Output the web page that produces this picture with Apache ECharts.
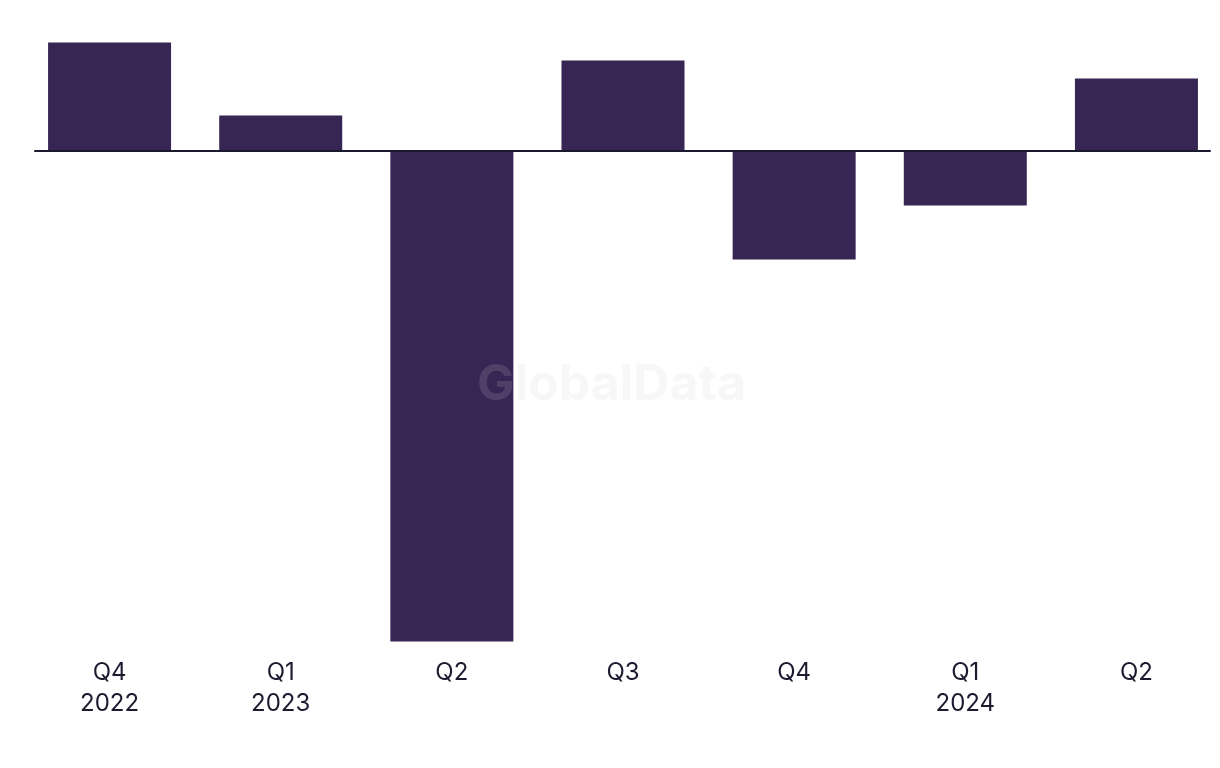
<!DOCTYPE html>
<html>
<head>
<meta charset="utf-8">
<script src="https://cdn.jsdelivr.net/npm/echarts@6/dist/echarts.min.js"></script>
<style>html,body{margin:0;padding:0;background:#fff;overflow:hidden}#c{width:1226px;height:768px}</style>
</head>
<body>
<div id="c"></div>
<script>
const categories = ['Q4\n2022', 'Q1\n2023', 'Q2', 'Q3', 'Q4', 'Q1\n2024', 'Q2'];
const values = [10.8, 3.5, -49.1, 9.0, -10.9, -5.5, 7.2];

const chart = echarts.init(document.getElementById('c'));
chart.setOption({
  animation: false,
  grid: [
    { left: 24, width: 1198, top: 30.5, height: 620 },
    { left: 35, width: 1175, top: 30.5, height: 620 }
  ],
  xAxis: [
    {
      type: 'category', data: categories, gridIndex: 0,
      axisLine: { show: false, onZero: false },
      axisTick: { show: false },
      axisLabel: { fontFamily: 'Inter', fontSize: 24, color: '#1c1a2e', lineHeight: 31, margin: 7 }
    },
    {
      type: 'value', gridIndex: 1, min: 0, max: 1,
      axisLine: { show: true, onZero: true, lineStyle: { color: '#1a1a2e', width: 2 } },
      axisTick: { show: false }, axisLabel: { show: false }, splitLine: { show: false }, z: 10
    }
  ],
  yAxis: [
    { type: 'value', gridIndex: 0, min: -50, max: 12, show: false, splitLine: { show: false } },
    { type: 'value', gridIndex: 1, min: -50, max: 12, show: false, splitLine: { show: false } }
  ],
  series: [{
    type: 'bar', data: values, barWidth: 123,
    itemStyle: { color: '#372554' }
  }],
  graphic: [{
    type: 'text', left: 610 - 133, top: 360, z: 100,
    style: { text: 'GlobalData', font: 'bold 50px Inter', fill: 'rgba(205,205,210,0.16)' }
  }]
});
</script>
</body>
</html>
